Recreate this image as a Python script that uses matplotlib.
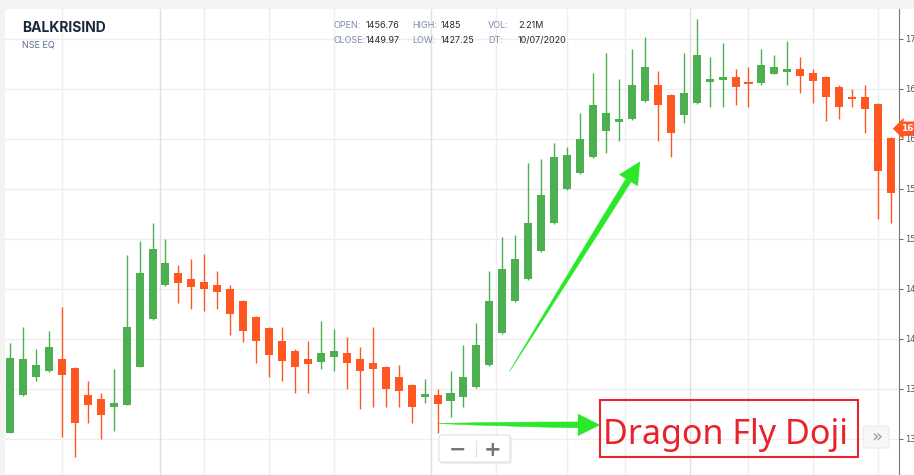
import matplotlib
matplotlib.use("Agg")
import matplotlib.pyplot as plt
import matplotlib.transforms as mtransforms
from matplotlib.patches import Rectangle, FancyBboxPatch, FancyArrowPatch
import numpy as np

W, H = 914, 475

# daily candles (price)
opens = [1306, 1344, 1362, 1368, 1380, 1371, 1344, 1340, 1332, 1334,
         1372, 1420, 1454, 1466, 1460, 1456.76, 1454, 1450, 1438, 1422,
         1411, 1398, 1388, 1380, 1377, 1382, 1386, 1380, 1376, 1372,
         1362, 1354, 1342, 1344, 1338, 1342, 1352, 1374, 1406, 1438,
         1460, 1488, 1516, 1550, 1566, 1582, 1608, 1617, 1620, 1638,
         1654, 1644, 1624, 1636, 1657, 1659, 1662, 1657, 1656, 1665,
         1667, 1670, 1666, 1662, 1652, 1642, 1642, 1635, 1601]
highs = [1396, 1412, 1390, 1408, 1432, 1372, 1358, 1346, 1370, 1484,
         1498, 1516, 1500, 1474, 1480, 1485, 1468, 1454, 1439, 1423,
         1412, 1412, 1390, 1398, 1418, 1410, 1402, 1392, 1412, 1373,
         1374, 1355, 1360, 1350, 1368, 1394, 1416, 1468, 1502, 1504,
         1576, 1580, 1596, 1592, 1626, 1666, 1686, 1660, 1690, 1702,
         1668, 1645, 1686, 1720, 1682, 1696, 1670, 1672, 1690, 1684,
         1698, 1682, 1670, 1663, 1654, 1650, 1654, 1636, 1602]
lows = [1306, 1343, 1358, 1367, 1302, 1282, 1316, 1300, 1308, 1334,
        1372, 1419, 1453, 1436, 1430, 1427.25, 1430, 1404, 1397, 1376,
        1362, 1358, 1346, 1346, 1370, 1368, 1350, 1330, 1332, 1332,
        1332, 1316, 1336, 1306, 1322, 1332, 1351, 1373, 1405, 1437,
        1459, 1487, 1515, 1549, 1565, 1581, 1586, 1598, 1619, 1637,
        1598, 1582, 1616, 1635, 1632, 1632, 1634, 1632, 1654, 1665,
        1654, 1646, 1636, 1618, 1620, 1632, 1606, 1520, 1516]
closes = [1381, 1380, 1374, 1392, 1364, 1316, 1334, 1324, 1336, 1412,
          1466, 1490, 1476, 1456, 1452, 1449.97, 1447, 1425, 1408, 1398,
          1384, 1378, 1372, 1375, 1386, 1388, 1376, 1368, 1370, 1350,
          1348, 1332, 1345, 1335, 1346, 1362, 1394, 1438, 1470, 1480,
          1516, 1544, 1582, 1584, 1600, 1634, 1626, 1620, 1654, 1672,
          1634, 1606, 1646, 1684, 1660, 1662, 1652, 1655, 1674, 1672,
          1670, 1663, 1658, 1642, 1632, 1640, 1630, 1568, 1546]

price_ticks = [1300, 1350, 1400, 1450, 1500, 1550, 1600, 1650, 1700]
price_labels = ['1300', '1350', '1400', '1450', '1500', '1550', '1600', '1650', '1700']
week_lines = [4, 15, 20, 25, 37.5, 43, 47.5, 57, 62, 67]
month_lines = [11.6, 32.5, 52.5]
last_price = 1609.8
last_label = '1609.80'

info_labels = [('OPEN:', '1456.76'), ('HIGH:', '1485'), ('VOL:', '2.21M'),
               ('CLOSE:', '1449.97'), ('LOW:', '1427.25'), ('DT:', '10/07/2020')]

up_col = '#4caf50'
down_col = '#ff5722'
arrow_col = '#2be82b'


def fx(x):
    return x / W


def fy(y):
    return 1 - y / H


def draw_arrow(ax, start, base, tip):
    # tapered shaft (thin at start) + arrow head
    shaft = FancyArrowPatch(base, start, shrinkA=0, shrinkB=0,
                            arrowstyle='wedge,tail_width=0.42,shrink_factor=0.65',
                            mutation_scale=10, color=arrow_col, lw=0.4, zorder=5)
    ax.add_patch(shaft)
    head = FancyArrowPatch(base, tip, shrinkA=0, shrinkB=0,
                           arrowstyle='simple,head_length=1.6,head_width=1.6,tail_width=0.4',
                           mutation_scale=10, color=arrow_col, lw=0, zorder=5)
    ax.add_patch(head)


fig = plt.figure(figsize=(W / 100, H / 100), dpi=100, facecolor='#f3f3f3')
fig.patches.append(Rectangle((fx(5), 0), 1, fy(9), transform=fig.transFigure,
                             facecolor='white', edgecolor='none', zorder=-5))

ax = fig.add_axes([fx(5), 0, fx(899) - fx(5), fy(9)])
ax.set_facecolor('white')

o = np.array(opens, dtype=float)
hi = np.array(highs, dtype=float)
lo = np.array(lows, dtype=float)
c = np.array(closes, dtype=float)
idx = np.arange(len(o))
cols = np.where(c >= o, up_col, down_col)

# grid
for p in price_ticks:
    ax.axhline(p, color='#eeeeee', lw=1, zorder=0)
for v in week_lines:
    ax.axvline(v, color='#eeeeee', lw=1, zorder=0)
for v in month_lines:
    ax.axvline(v, color='#dedede', lw=1, zorder=0)

# candles
ax.vlines(idx, lo, hi, colors=cols, lw=1.0, zorder=2)
body = np.maximum(np.abs(c - o), 2)
ax.bar(idx, body, bottom=np.minimum(o, c), width=0.62, color=cols, zorder=3)

ax.set_xlim(-0.386, 68.617)
ax.set_ylim(1263.5, 1729.5)
ax.set_xticks([])
ax.set_yticks(price_ticks)
ax.set_yticklabels(price_labels)
ax.yaxis.tick_right()
ax.tick_params(axis='y', length=3, width=0.7, color='#666666', labelsize=6,
               labelcolor='#555555', pad=1.5)
for s in ['top', 'left', 'bottom']:
    ax.spines[s].set_visible(False)
ax.spines['right'].set_color('#777777')
ax.spines['right'].set_linewidth(0.8)

# last price tag
trans = mtransforms.blended_transform_factory(ax.transAxes, ax.transData)
ax.text(1.002, last_price, last_label, transform=trans, ha='left', va='center',
        fontsize=6.5, color='white', fontweight='bold', clip_on=False, zorder=6,
        bbox=dict(boxstyle='larrow,pad=0.3', fc=down_col, ec='none'))

# arrows
draw_arrow(ax, (33.0, 1315), (43.85, 1313.6), (45.55, 1313.5))
draw_arrow(ax, (38.55, 1367), (47.73, 1558), (48.63, 1577))

# header
fig.text(fx(22.5), fy(28.5), 'BALKRISIND', fontsize=10, fontweight='bold',
         color='#1c2738', va='center', family='Inter')
fig.text(fx(22.5), fy(44.5), 'NSE EQ', fontsize=6.5, color='#5b6b8c',
         va='center', family='Inter')
col_lab = [333, 412, 488]
col_val = [366, 441, 518]
row_y = [25, 40.7]
for k, (lab, val) in enumerate(info_labels):
    r, cc = divmod(k, 3)
    fig.text(fx(col_lab[cc]), fy(row_y[r]), lab, fontsize=6.5, color='#7d8bab',
             va='center', family='Inter')
    fig.text(fx(col_val[cc]), fy(row_y[r]), val, fontsize=6.5, color='#2a2a2a',
             va='center', family='Inter')

# Dragon Fly Doji box
fig.patches.append(Rectangle((fx(600), fy(457)), fx(858) - fx(600), fy(400) - fy(457),
                             transform=fig.transFigure, fill=False,
                             edgecolor='#e5262e', lw=1.5, zorder=7))
fig.text(fx(725.5), fy(444), 'Dragon Fly Doji', fontsize=24.5, color='#e8232b',
         ha='center', va='baseline', family='Noto Sans', zorder=8)

# zoom buttons
fig.patches.append(FancyBboxPatch((fx(440), fy(464)), fx(512) - fx(440), fy(436) - fy(464),
                                  boxstyle='round,pad=0,rounding_size=0.004',
                                  transform=fig.transFigure, facecolor='#e6e6e6',
                                  edgecolor='none', alpha=0.7, zorder=6))
fig.patches.append(FancyBboxPatch((fx(439), fy(462)), fx(510) - fx(439), fy(435) - fy(462),
                                  boxstyle='round,pad=0,rounding_size=0.004',
                                  transform=fig.transFigure, facecolor='white',
                                  edgecolor='#e2e2e2', lw=0.8, zorder=7))
fig.lines.append(plt.Line2D([fx(476), fx(476)], [fy(441), fy(457)], transform=fig.transFigure,
                            color='#e2e2e2', lw=0.8, zorder=8))
fig.text(fx(457.5), fy(449.5), '\u2212', fontsize=15, fontweight='bold', color='#777777',
         ha='center', va='center', zorder=9)
fig.text(fx(493), fy(449.5), '+', fontsize=15, fontweight='bold', color='#777777',
         ha='center', va='center', zorder=9)
fig.patches.append(FancyBboxPatch((fx(863), fy(448)), fx(889) - fx(863), fy(426) - fy(448),
                                  boxstyle='round,pad=0,rounding_size=0.004',
                                  transform=fig.transFigure, facecolor='#f7f7f7',
                                  edgecolor='#ececec', lw=0.8, zorder=7))
fig.text(fx(876.5), fy(437.5), '\u00bb', fontsize=13, color='#9a9a9a',
         ha='center', va='center', zorder=9)

fig.savefig('out.png', dpi=100, facecolor=fig.get_facecolor())
